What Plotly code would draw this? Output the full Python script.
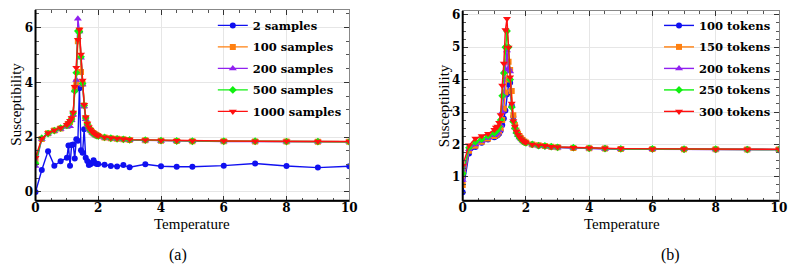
import plotly.graph_objects as go

temperature = [0, 0.2, 0.4, 0.6, 0.8, 1.0, 1.05, 1.1, 1.15, 1.2, 1.25, 1.3, 1.35, 1.4, 1.45,
               1.5, 1.55, 1.6, 1.65, 1.7, 1.75, 1.8, 1.85, 1.9, 1.95, 2.0, 2.2, 2.4, 2.6, 2.8,
               3.0, 3.5, 4, 4.5, 5, 6, 7, 8, 9, 10]

# Panel (a): number of samples
samples_2 = [0, 0.8, 1.49, 0.96, 1.12, 1.25, 1.7, 0.96, 1.71, 1.73, 1.22, 1.92, 1.87, 3.78, 1.52,
             1.43, 2.29, 1.25, 1.13, 0.98, 1.01, 1.07, 1.16, 1.06, 1.02, 1.02, 0.99, 0.95, 0.93, 0.98,
             0.90, 1.01, 0.94, 0.92, 0.92, 0.96, 1.04, 0.95, 0.89, 0.94]
samples_100 = [1.2, 1.93, 2.14, 2.24, 2.32, 2.42, 2.48, 2.55, 2.65, 2.85, 3.8, 4.0, 5.5, 5.9, 4.38,
               3.95, 3.15, 2.7, 2.48, 2.35, 2.26, 2.19, 2.14, 2.1, 2.07, 2.04, 1.99, 1.96, 1.94, 1.92,
               1.9, 1.89, 1.87, 1.86, 1.85, 1.85, 1.84, 1.84, 1.83, 1.83]
samples_200 = [0.95, 1.93, 2.12, 2.22, 2.3, 2.38, 2.42, 2.4, 2.62, 2.82, 3.7, 4.08, 6.32, 5.85, 4.9,
               3.92, 3.12, 2.65, 2.45, 2.32, 2.24, 2.17, 2.12, 2.08, 2.05, 2.02, 1.98, 1.95, 1.93, 1.91,
               1.89, 1.88, 1.86, 1.85, 1.85, 1.84, 1.84, 1.83, 1.83, 1.83]
samples_500 = [1.05, 1.96, 2.13, 2.24, 2.33, 2.43, 2.5, 2.57, 2.66, 2.88, 3.68, 4.35, 5.87, 5.85, 4.93,
               3.96, 3.16, 2.7, 2.48, 2.34, 2.25, 2.18, 2.13, 2.09, 2.06, 2.04, 1.99, 1.96, 1.94, 1.92,
               1.9, 1.89, 1.87, 1.86, 1.85, 1.85, 1.85, 1.84, 1.84, 1.83]
samples_1000 = [1.25, 1.95, 2.15, 2.25, 2.33, 2.45, 2.52, 2.6, 2.7, 2.9, 3.84, 4.53, 5.55, 5.93, 5.01,
                4.07, 3.18, 2.73, 2.5, 2.36, 2.27, 2.2, 2.15, 2.11, 2.08, 2.05, 2.0, 1.97, 1.95, 1.93,
                1.91, 1.9, 1.88, 1.87, 1.86, 1.86, 1.85, 1.85, 1.84, 1.84]

# Panel (b): number of tokens
tokens_100 = [0.52, 1.72, 1.92, 2.05, 2.15, 2.22, 2.25, 2.28, 2.33, 2.42, 2.6, 2.8, 3.05, 3.55, 3.85,
              3.9, 3.2, 2.85, 2.58, 2.42, 2.32, 2.24, 2.18, 2.13, 2.09, 2.06, 2.0, 1.96, 1.94, 1.92,
              1.91, 1.89, 1.88, 1.87, 1.86, 1.85, 1.85, 1.84, 1.84, 1.84]
tokens_150 = [0.75, 1.8, 1.96, 2.08, 2.18, 2.26, 2.3, 2.33, 2.4, 2.5, 2.75, 3.1, 3.6, 4.0, 4.55,
              4.3, 3.65, 2.9, 2.6, 2.43, 2.33, 2.25, 2.18, 2.13, 2.09, 2.06, 2.0, 1.97, 1.95, 1.93,
              1.91, 1.89, 1.88, 1.87, 1.86, 1.86, 1.85, 1.85, 1.84, 1.84]
tokens_200 = [0.9, 1.85, 2.0, 2.1, 2.2, 2.28, 2.32, 2.36, 2.44, 2.58, 3.0, 3.5, 4.3, 4.9, 4.35,
              4.25, 3.2, 2.75, 2.52, 2.38, 2.28, 2.21, 2.16, 2.11, 2.08, 2.05, 1.99, 1.96, 1.94, 1.92,
              1.9, 1.89, 1.87, 1.86, 1.85, 1.85, 1.85, 1.84, 1.84, 1.84]
tokens_250 = [1.1, 1.9, 2.08, 2.16, 2.26, 2.35, 2.4, 2.45, 2.55, 2.75, 3.5, 4.2, 5.0, 5.5, 5.0,
              4.0, 3.15, 2.7, 2.5, 2.36, 2.27, 2.2, 2.15, 2.1, 2.07, 2.05, 2.0, 1.96, 1.95, 1.93,
              1.91, 1.9, 1.88, 1.87, 1.86, 1.86, 1.85, 1.85, 1.84, 1.84]
tokens_300 = [1.35, 1.97, 2.18, 2.26, 2.33, 2.45, 2.52, 2.55, 2.67, 2.91, 3.82, 4.5, 5.53, 5.88, 4.99,
              4.07, 3.26, 2.72, 2.55, 2.4, 2.3, 2.22, 2.16, 2.11, 2.08, 2.06, 2.0, 1.97, 1.96, 1.93,
              1.92, 1.9, 1.89, 1.88, 1.87, 1.86, 1.86, 1.85, 1.85, 1.85]

labels_a = ["2 samples", "100 samples", "200 samples", "500 samples", "1000 samples"]
labels_b = ["100 tokens", "150 tokens", "200 tokens", "250 tokens", "300 tokens"]
series_a = [samples_2, samples_100, samples_200, samples_500, samples_1000]
series_b = [tokens_100, tokens_150, tokens_200, tokens_250, tokens_300]

x_ticks = [0, 2, 4, 6, 8, 10]
y_ticks_a = [0, 2, 4, 6]
y_ticks_b = [1, 2, 3, 4, 5, 6]

colors = ["#1010F0", "#FF8010", "#9020F0", "#10F010", "#FF1010"]
symbols = ["circle", "square", "triangle-up", "diamond", "triangle-down"]
msizes = [6, 6, 7, 6, 7]

SERIF = "Liberation Serif"
BOLD_SERIF = "DejaVu Serif"

def bold(v):
    return "<b>%s</b>" % v

fig = go.Figure()
for i in range(5):
    fig.add_trace(go.Scatter(
        x=temperature, y=series_a[i], name=bold(labels_a[i]), mode="lines+markers",
        line=dict(color=colors[i], width=1.4), legendgroup="a%d" % i,
        marker=dict(symbol=symbols[i], size=msizes[i], color=colors[i]),
        xaxis="x", yaxis="y", legend="legend"))
for i in range(5):
    fig.add_trace(go.Scatter(
        x=temperature, y=series_b[i], name=bold(labels_b[i]), mode="lines+markers",
        line=dict(color=colors[i], width=1.4), legendgroup="b%d" % i,
        marker=dict(symbol=symbols[i], size=msizes[i], color=colors[i]),
        xaxis="x2", yaxis="y2", legend="legend2"))

H = 269.0
W = 800.0

def axis_common(ticks):
    return dict(
        showgrid=True, gridcolor="#E6E6E6", gridwidth=1,
        zeroline=False, showline=True, linecolor="#888888", linewidth=1,
        mirror="ticks", ticks="inside", ticklen=5, tickcolor="#333333", tickwidth=1,
        tickmode="array", tickvals=ticks, ticktext=[bold(t) for t in ticks],
        tickfont=dict(family=BOLD_SERIF, size=12, color="black"),
        minor=dict(ticks="inside", ticklen=3, tickcolor="#555555", showgrid=False),
    )

AX_A = (32.0, 350.5)
AX_B = (465.7, 786.7)
TOP_A, TOP_B, BOT = 7.0, 8.0, 200.0

xa = axis_common(x_ticks)
xa.update(range=[0, 10], domain=[AX_A[0] / W, AX_A[1] / W], anchor="y", ticklabelstandoff=-4)
xa["minor"].update(dtick=0.5, tick0=0)
ya = axis_common(y_ticks_a)
ya.update(range=[-0.32, 6.64], domain=[1 - BOT / H, 1 - TOP_A / H], anchor="x", ticklabelstandoff=-1)
ya["minor"].update(dtick=0.5, tick0=0)

xb = axis_common(x_ticks)
xb.update(range=[0, 10], domain=[AX_B[0] / W, AX_B[1] / W], anchor="y2", ticklabelstandoff=-4)
xb["minor"].update(dtick=0.5, tick0=0)
yb = axis_common(y_ticks_b)
yb.update(range=[0.26, 6.12], domain=[1 - BOT / H, 1 - TOP_B / H], anchor="x2", ticklabelstandoff=-1)
yb["minor"].update(dtick=0.25, tick0=0)

title_font = dict(family=SERIF, size=15, color="black")
legend_font = dict(family=BOLD_SERIF, size=11.5, color="black")

def paper_ann(text, px, py, font, angle=0):
    return dict(text=text, x=px / W, y=1 - py / H, xref="paper", yref="paper",
                xanchor="center", yanchor="middle", showarrow=False, font=font, textangle=angle)

fig.update_layout(
    width=800, height=269,
    margin=dict(l=0, r=0, t=0, b=0),
    paper_bgcolor="white", plot_bgcolor="white",
    xaxis=xa, yaxis=ya, xaxis2=xb, yaxis2=yb,
    legend=dict(x=212 / W, y=1 - 8 / H, xanchor="left", yanchor="top", tracegroupgap=2.5,
                bgcolor="rgba(0,0,0,0)", font=legend_font, itemwidth=30),
    legend2=dict(x=665 / W, y=1 - 8 / H, xanchor="left", yanchor="top", tracegroupgap=2.5,
                 bgcolor="rgba(0,0,0,0)", font=legend_font, itemwidth=30),
    shapes=[
        dict(type="line", xref="paper", yref="paper", x0=AX_A[0] / W, x1=AX_A[1] / W,
             y0=1 - BOT / H, y1=1 - BOT / H, line=dict(color="black", width=2)),
        dict(type="line", xref="paper", yref="paper", x0=AX_A[0] / W, x1=AX_A[0] / W,
             y0=1 - BOT / H, y1=1 - TOP_A / H, line=dict(color="black", width=2)),
        dict(type="line", xref="paper", yref="paper", x0=AX_B[0] / W, x1=AX_B[1] / W,
             y0=1 - BOT / H, y1=1 - BOT / H, line=dict(color="black", width=2)),
        dict(type="line", xref="paper", yref="paper", x0=AX_B[0] / W, x1=AX_B[0] / W,
             y0=1 - BOT / H, y1=1 - TOP_B / H, line=dict(color="black", width=2)),
    ],
    annotations=[
        paper_ann("Temperature", 191, 223, title_font),
        paper_ann("Temperature", 627, 223, title_font),
        paper_ann("Susceptibility", 12, 102, title_font, -90),
        paper_ann("Susceptibility", 447, 104, title_font, -90),
        paper_ann("(a)", 177, 255, dict(family=SERIF, size=16, color="black")),
        paper_ann("(b)", 677, 255, dict(family=SERIF, size=16, color="black")),
    ],
)

fig.write_html("out.html")
